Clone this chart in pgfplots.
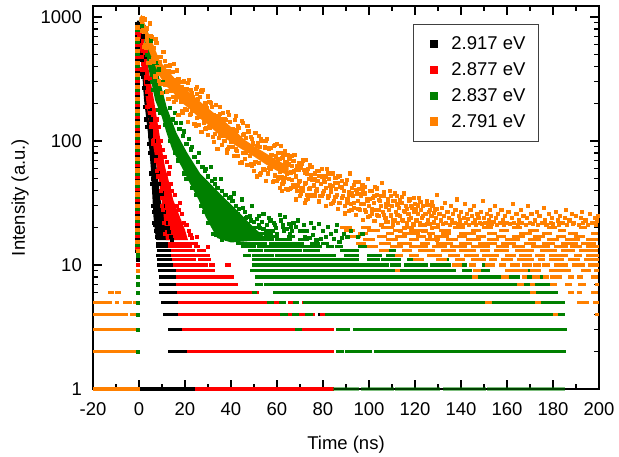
\documentclass[border=0pt]{standalone}
\usepackage{pgfplots}
\pgfplotsset{compat=1.18}
\usepackage{fontspec}
\setmainfont{Liberation Sans}
\definecolor{cblack}{RGB}{0,0,0}
\definecolor{cred}{RGB}{255,0,0}
\definecolor{cgreen}{RGB}{0,128,0}
\definecolor{corange}{RGB}{255,128,0}
\pgfplotsset{
  pdots/.style={only marks, mark=square*, mark size=1.6bp, mark options={draw=none}, forget plot},
  psegs/.style={no marks, line width=3.2bp, line cap=rect, unbounded coords=jump, forget plot},
  pcore/.style={no marks, draw=none, forget plot},
}
\newcommand{\fs}{\fontsize{18.5bp}{22bp}\selectfont}
\begin{document}
\begin{tikzpicture}
\path[use as bounding box] (-93bp,-68bp) rectangle (526bp,389bp);
\begin{axis}[
  at={(0,0)}, anchor=south west,
  scale only axis, width=506bp, height=383bp,
  xmin=-20, xmax=200, ymode=log, ymin=1, ymax=1227,
  clip=false,
  xtick={-20,0,...,200},
  xticklabels={-20,0,20,40,60,80,100,120,140,160,180,200},
  minor x tick num=1,
  ytick={1,10,100,1000}, yticklabels={1,10,100,1000},
  minor ytick={2,3,4,5,6,7,8,9,20,30,40,50,60,70,80,90,200,300,400,500,600,700,800,900},
  tick align=inside,
  major tick length=9bp, minor tick length=5bp,
  every tick/.append style={line width=1.2bp, black},
  axis line style={line width=1.5bp},
  tick label style={font=\fs},
  xticklabel style={anchor=north, inner sep=0pt, yshift=-13bp},
  yticklabel style={anchor=east, inner sep=0pt, xshift=-11bp},
  xlabel={Time (ns)}, ylabel={Intensity (a.u.)},
  label style={font=\fs},
  xlabel style={at={(axis description cs:0.5,-0.1567)}, anchor=base, inner sep=0pt},
  ylabel style={at={(axis description cs:-0.1344,0.5)}, anchor=base, inner sep=0pt},
  legend cell align=left,
  legend style={at={(axis description cs:0.6324,0.953)}, anchor=north west,
    draw=black!75, line width=0.8bp, fill=white, font=\fs,
    inner xsep=13bp, inner ysep=12.4bp, row sep=11.4bp, column sep=13.4bp,
    nodes={inner sep=0bp}},
  legend image code/.code={\path (-7.2bp,0bp); \fill[#1] (-3.6bp,-3.6bp) rectangle (3.6bp,3.6bp);},
]
% ================= BLACK 2.917 eV =================
\addplot[pcore, fill=cblack] coordinates {(-0.9,930)(-0.5,760)(0.3,560)(1.2,395)(2.2,214)(3.9,116)(5.1,62)(5.9,33.4)(6.3,24.4)(7.0,18.1)(7.8,15.9)(13.3,15.9)(12.4,18.1)(11.1,24.4)(9.4,33.4)(7.6,62)(6.0,116)(4.2,214)(3.2,395)(2.1,542)(0.8,862)(-0.3,940)} -- cycle;
\addplot[pdots, cblack] coordinates {(-1.0,850)(-0.8,700)(0.0,640)(0.5,500)(1.0,450)(1.4,350)(1.9,270)(2.5,190)(3.0,150)(3.5,130)(4.3,95)(4.7,80)(5.2,55)(5.5,45)(6.0,30)(6.4,27)(6.8,21)(7.3,19)(7.6,17)(8.0,16.5)(3.6,300)(4.5,180)(5.0,150)(5.5,120)(6.5,100)(7.0,75)(8.0,55)(8.5,45)(9.8,38)(10.2,30)(10.8,27)(11.6,22)(12.4,20)(13.0,18.5)(13.8,17)(14.2,16)(2.6,480)(1.6,700)(0.4,780)(1.8,330)(2.9,240)(4.1,160)(4.9,110)(5.6,72)(6.2,50)(8.8,40)(9.5,28)(6.6,22)(10.5,20)
(-0.8,13.0)(-0.8,16.2)(-0.8,20.3)(-0.8,25.3)(-0.8,31.6)(-0.8,39.4)(-0.8,49.2)(-0.8,61.4)(-0.8,76.7)(-0.8,95.7)(-0.8,119)(-0.8,149)(-0.8,186)(-0.8,232)(-0.8,289)(-0.8,361)(-0.8,451)(-0.8,563)(-0.8,702)(-0.8,877)(-0.7,11)};
\addplot[psegs, cblack] coordinates {(-0.6,1)(25,1)(nan,nan)(13.5,2)(21.7,2)(nan,nan)(13.5,3)(19.3,3)(nan,nan)(11.3,4)(12.5,4)(nan,nan)(13,4)(17.8,4)(nan,nan)(10.3,5)(17.8,5)(nan,nan)(9.6,6)(17,6)(nan,nan)(9.6,7)(17,7)(nan,nan)(9.6,8)(16.8,8)(nan,nan)(9.1,9)(10.6,9)(nan,nan)(11.3,9)(16.8,9)(nan,nan)(8.7,10)(15,10)(nan,nan)(8.6,11)(14,11)(nan,nan)(8.3,12)(14.5,12)(nan,nan)(8.4,13)(14,13)(nan,nan)(8.1,14)(13.5,14)(nan,nan)(7.9,15)(13.5,15)(nan,nan)(48,6)(48.7,6)(nan,nan)(59.6,5)(60,5)(nan,nan)(70,4)(70.4,4)(nan,nan)(78.7,4)(79,4)(nan,nan)(81.6,4)(82,4)};
% ================= RED 2.877 eV =================
\addplot[pcore, fill=cred] coordinates {(-0.4,780)(0.4,560)(2.2,292)(4.0,157)(6.5,84.6)(8.8,45.8)(10.6,26.2)(11.3,19)(11.7,15.9)(21.3,15.9)(20,19.2)(17.8,24.4)(14.9,33.4)(12.5,51.5)(11.3,61.7)(8.8,116)(6.5,214)(4.0,395)(1.9,695)(0.5,810)} -- cycle;
\addplot[pdots, cred] coordinates {(0.0,700)(0.8,600)(1.3,480)(1.0,380)(2.8,330)(3.2,250)(3.6,190)(4.6,170)(5.1,130)(5.8,100)(6.0,95)(7.2,70)(7.8,58)(8.2,52)(9.3,40)(9.8,35)(10.0,30)(10.3,28)(10.9,22)(11.0,18)(4.8,320)(5.6,260)(7.2,180)(7.8,150)(8.5,130)(9.6,100)(10.4,85)(11.0,75)(12.0,68)(13.0,55)(13.6,45)(14.2,40)(15.5,37)(16.5,30)(17.2,28)(18.5,26)(17.8,31.6)(19.5,22)(20.5,21)(21.5,19)(22.3,17.5)(23.0,16.5)(25,17)(30,14)(3.0,520)(2.3,600)(1.6,420)(6.8,120)(9.0,90)(12.8,42)(15.0,28)(16.2,22)(13.5,62)(10.2,48)
(-0.8,13.7)(-0.8,17.2)(-0.8,21.4)(-0.8,26.8)(-0.8,33.4)(-0.8,41.7)(-0.8,52.0)(-0.8,64.9)(-0.8,81.0)(-0.8,101)(-0.8,126)(-0.8,157)(-0.8,196)(-0.8,245)(-0.8,306)(-0.8,382)(-0.8,476)(-0.8,595)(-0.8,742)(-0.7,10)};
\addplot[psegs, cred] coordinates {(25,1)(80,1)(nan,nan)(81,1)(84,1)(nan,nan)(21.7,2)(80,2)(nan,nan)(81,2)(84,2)(nan,nan)(19.3,3)(68.5,3)(nan,nan)(70,3)(84,3)(nan,nan)(17.8,4)(58.4,4)(nan,nan)(58.8,4)(62,4)(nan,nan)(64.5,4)(66,4)(nan,nan)(69,4)(72,4)(nan,nan)(74.5,4)(76,4)(nan,nan)(79.5,4)(81.5,4)(nan,nan)(17.8,5)(57,5)(nan,nan)(59.5,5)(61,5)(nan,nan)(65.5,5)(67,5)(nan,nan)(71.5,5)(72.5,5)(nan,nan)(17,6)(45.4,6)(nan,nan)(46.6,6)(47.9,6)(nan,nan)(49,6)(51.3,6)(nan,nan)(63,6)(64,6)(nan,nan)(71.7,6)(73,6)(nan,nan)(16.8,7)(37.4,7)(nan,nan)(38.3,7)(39.3,7)(nan,nan)(40.6,7)(42.5,7)(nan,nan)(59.3,7)(60.3,7)(nan,nan)(16.8,8)(33.5,8)(nan,nan)(34.2,8)(36.8,8)(nan,nan)(38,8)(40.7,8)(nan,nan)(16.8,9)(29.4,9)(nan,nan)(30.4,9)(32.5,9)(nan,nan)(15.4,10)(29.1,10)(nan,nan)(31,10)(32.3,10)(nan,nan)(38.3,10)(39.5,10)(nan,nan)(14.9,11)(24,11)(nan,nan)(26.5,11)(30.4,11)(nan,nan)(14.8,12)(25.5,12)(nan,nan)(26.5,12)(30.3,12)(nan,nan)(14.5,13)(23.6,13)(nan,nan)(25.7,13)(28.5,13)(nan,nan)(13.5,14)(22.5,14)(nan,nan)(24.5,14)(26,14)(nan,nan)(13.2,15)(22,15)(nan,nan)(23.5,15)(24.8,15)};
% ================= GREEN 2.837 eV =================
\addplot[pcore, fill=cgreen] coordinates {(0.2,950)(1.8,743)(4.0,395)(7.0,214)(9.9,157)(12,116)(14.5,85)(18.5,62)(22,46)(26,33.4)(29,24.5)(31.5,20)(34,16.5)(40,15.2)(56,16)(50,20)(44,26)(35,38)(26.5,55)(21,80)(16.3,116)(12,189)(9,310)(6.2,509)(3.3,837)(0.8,960)} -- cycle;
\addplot[pdots, cgreen] coordinates {(5,650)(7.5,430)(10.2,300)(11.5,250)(13.5,185)(14.8,150)(17.5,125)(19,110)(20.5,95)(22.5,86)(24,75)(25.5,68)(27.5,62)(28.5,58)(30,52)(31.5,48)(33,45)(34,42)(36,40)(37.5,37)(39,35)(40.5,33)(42,30)(43.5,28.5)(46,27)(47,24.5)(48.5,23)(50,22.5)(52,21)(54,19.5)(55,18.2)(57,17.5)(58,19)(60,18)(61,25.3)(62.6,21)(64,19.5)(65.6,18)(67,22)(70,19)(71.3,19)(72,17)(74,16.5)(75.5,17.5)(77,16)(79,16.2)(81,16.8)(84.7,16.2)(87,15.5)(88,16.5)(41,38)(40,35.5)(54,26)(62.6,20.4)(33,50)(29,60)(23,90)(19.5,120)(16,140)(8.5,380)(12.5,220)(15.5,170)(18,140)(21.5,105)(26,80)(31,62)(35.5,50)(44.5,34)(49,30)(52,25)(57,23)(59,21)(66,20.5)
(41,24)(42.5,21)(44,23)(45.5,20)(47,21.5)(48,25)(49.5,19)(51,23.5)(52.5,20)(53.5,22.5)(55.5,21)(56.5,24)(58.5,22)(59.5,20)(61.5,23)(63,19)(63.5,24.5)(65,21.5)(66.5,19)(68,20.5)(69,23)(71.5,21)(73,19)(74.5,22)(76,20)(78,21.5)(80,19)(82,20.5)(83.5,18)(85.5,19)(86,21)(89,18)(90.5,17)(92,19)(95,17)(97,18)(36,30)(37,27)(38.5,29)(39.5,25)(43,26)(45,29)(46.5,24)(35,26)(33.5,28)(32,25)
(1.0,850)(2.5,600)(3.2,500)(5.5,300)(6.0,260)(8.0,180)(9.0,170)(11,135)(13.5,100)(15.5,80)(17,70)(19.5,55)(20.5,50)(23,42)(24.5,37)(27,30)(28,27)(30,22)(32,18)(33.5,17.5)(36,16)(38,16.2)
(-0.8,14.5)(-0.8,18.2)(-0.8,22.7)(-0.8,28.3)(-0.8,35.3)(-0.8,44.0)(-0.8,55.0)(-0.8,68.6)(-0.8,85.6)(-0.8,107)(-0.8,133)(-0.8,166)(-0.8,207)(-0.8,259)(-0.8,323)(-0.8,403)(-0.8,504)(-0.8,629)(-0.8,785)
(-0.7,2)(-0.7,3)(-0.7,4)(-0.7,5)(-0.7,6)(-0.7,7)(-0.7,8)(-0.7,12)};
\addplot[psegs, cgreen, opacity=0.5] coordinates {(85,1)(95,1)(nan,nan)(97,1)(110,1)(nan,nan)(112,1)(130,1)(nan,nan)(133,1)(150,1)(nan,nan)(152,1)(184.5,1)};
\addplot[psegs, cgreen] coordinates {(86.5,2)(88.4,2)(nan,nan)(90.3,2)(92,2)(nan,nan)(93.2,2)(100.4,2)(nan,nan)(102.9,2)(104.5,2)(nan,nan)(105.8,2)(107.7,2)(nan,nan)(108.4,2)(125,2)(nan,nan)(126.2,2)(184.8,2)(nan,nan)
(68.5,3)(70,3)(nan,nan)(86.5,3)(88.7,3)(nan,nan)(89.4,3)(90.9,3)(nan,nan)(93.9,3)(185.3,3)(nan,nan)
(62,4)(64,4)(nan,nan)(67,4)(69,4)(nan,nan)(73,4)(75,4)(nan,nan)(81.6,4)(184.5,4)(nan,nan)
(56.5,5)(58,5)(nan,nan)(61.5,5)(63,5)(nan,nan)(67.5,5)(69,5)(nan,nan)(72,5)(184.5,5)(nan,nan)
(50,6)(50.8,6)(nan,nan)(59,6)(61,6)(nan,nan)(62.5,6)(64.5,6)(nan,nan)(65.6,6)(70,6)(nan,nan)(70.7,6)(181.4,6)(nan,nan)
(51,7)(53,7)(nan,nan)(55,7)(61,7)(nan,nan)(62,7)(67,7)(nan,nan)(68,7)(181,7)(nan,nan)
(51,8)(52,8)(nan,nan)(53,8)(145.4,8)(nan,nan)(147.6,8)(157,8)(nan,nan)(160,8)(165,8)(nan,nan)(168,8)(171,8)(nan,nan)(174,8)(176,8)(nan,nan)
(49,9)(112,9)(nan,nan)(113,9)(123,9)(nan,nan)(124,9)(127,9)(nan,nan)(128,9)(130,9)(nan,nan)(131.5,9)(133,9)(nan,nan)(134.5,9)(137,9)(nan,nan)(141,9)(144,9)(nan,nan)(148,9)(152,9)(nan,nan)(168,9)(170,9)(nan,nan)
(50,10)(56,10)(nan,nan)(57,10)(88,10)(nan,nan)(88.7,10)(99,10)(nan,nan)(100,10)(108,10)(nan,nan)(110,10)(113,10)(nan,nan)(116,10)(125,10)(nan,nan)(127,10)(135,10)(nan,nan)(140,10)(142,10)(nan,nan)(150,10)(153,10)(nan,nan)
(50,11)(55,11)(nan,nan)(56,11)(88,11)(nan,nan)(89,11)(95,11)(nan,nan)(100,11)(104,11)(nan,nan)(106,11)(113,11)(nan,nan)(117,11)(120,11)(nan,nan)(130,11)(134,11)(nan,nan)
(46,12)(48,12)(nan,nan)(50,12)(58,12)(nan,nan)(60,12)(76,12)(nan,nan)(77,12)(81,12)(nan,nan)(82,12)(85,12)(nan,nan)(90,12)(95,12)(nan,nan)(100,12)(105,12)(nan,nan)(108,12)(111,12)(nan,nan)
(48,13)(53,13)(nan,nan)(55,13)(62,13)(nan,nan)(63,13)(70,13)(nan,nan)(72,13)(78,13)(nan,nan)(88,13)(95,13)(nan,nan)(108,13)(111,13)(nan,nan)
(45,14)(50,14)(nan,nan)(52,14)(62,14)(nan,nan)(63,14)(71,14)(nan,nan)(72,14)(79,14)(nan,nan)(82,14)(84,14)(nan,nan)(86,14)(88,14)(nan,nan)(96,14)(99,14)(nan,nan)
(43,15)(50,15)(nan,nan)(51,15)(55,15)(nan,nan)(57,15)(71,15)(nan,nan)(75,15)(78,15)(nan,nan)(80,15)(82,15)(nan,nan)
(40,16)(48,16)(nan,nan)(50,16)(58,16)(nan,nan)(60,16)(66,16)(nan,nan)(70,16)(73,16)(nan,nan)
(38,17)(45,17)(nan,nan)(47,17)(52,17)(nan,nan)(55,17)(60,17)(nan,nan)(65,17)(67,17)(nan,nan)
(36,18)(44,18)(nan,nan)(46,18)(50,18)(nan,nan)(53,18)(57,18)(nan,nan)
(35,19)(42,19)(nan,nan)(44,19)(48,19)(nan,nan)(55,19)(57,19)(nan,nan)
(34,20)(40,20)(nan,nan)(42,20)(46,20)(nan,nan)(50,20)(52,20)(nan,nan)
(32,22)(38,22)(nan,nan)(40,22)(43,22)};
% ================= ORANGE 2.791 eV =================
\addplot[pcore, fill=corange] coordinates {(0.2,990)(1.2,1040)(3.3,800)(6.2,600)(9.1,440)(12,380)(14.9,330)(18,285)(22.2,245)(26,212)(29.4,188)(34,160)(38,140)(42,120)(46,102)(50,91)(55,80)(60,70)(65,63)(65,53)(60,57.5)(55,65)(50,75)(46,83)(42,92)(38,104)(34,116)(29.4,138)(26,155)(22.2,180)(18,208)(14.9,245)(12,275)(9.1,330)(6.2,440)(3.3,590)(1.0,780)(0.2,880)} -- cycle;
\addplot[pdots, corange] coordinates {(1.5,986)(2.5,960)(3.5,812)(4.5,892)(5.5,690)(6.5,565)(7.5,621)(8.5,478)(9.5,477)(10.5,528)(11.5,405)(12.5,367)(13.5,408)(14.5,364)(15.5,314)(16.5,372)(17.5,299)(18.5,275)(19.5,304)(20.5,266)(21.5,310)(22.5,259)(23.5,226)(24.5,265)(25.5,218)(26.5,228)(27.5,258)(28.5,203)(29.5,186)(30.5,209)(31.5,189)(32.5,164)(33.5,197)(34.5,161)(35.5,150)(36.5,168)(37.5,148)(38.5,173)(39.5,144)(40.5,125)(41.5,148)(42.5,122)(43.5,128)(44.5,145)(45.5,114)(46.5,106)(47.5,120)(48.5,109)(49.5,96)(50.5,116)(51.5,96)(52.5,90)(53.5,100)(54.5,89)(55.5,104)(56.5,87.5)(57.5,77)(58.5,91)(59.5,75.5)(60.5,81)(61.5,92)(62.5,74)(63.5,68.5)(64.5,78)(65.5,72)(66.5,63)(67.5,77)(68.5,63)(69.5,59)(70.5,66)(71.5,59)(72.5,70.5)(73.5,60)(74.5,53)
(5,708)(7,665)(9,439)(11,445)(13,365)(15,419)(17,317)(19,263)(21,296)(23,245)(25,240)(27,252)(29,191)(31,203)(33,160)(35,165)(37,152)(39,164)(41,124)(43,133)(45,112)(47,133)(49,105)(51,91)(53,105)(55,88)(57,88)(59,94)(61,72.5)(63,80)(65,65)(67,69)(69,63.5)(71,70)(73,55)
(1,778)(2,576)(3,564)(4,429)(5,447)(6,457)(7,333)(8,349)(9,289)(10,246)(11,287)(12,252)(13,219)(14,255)(15,209)(16,214)(17,164)(18,207)(19,169)(20,181)(21,144)(22,162)(23,177)(24,137)(25,155)(26,136)(27,119)(28,142)(29,127)(30,112)(31,132)(32,109)(33,114)(34,87)(35,112)(36,93)(37,100)(38,80)(39,90)(40,98)(41,76)(42,86)(43,76.5)(44,67)(45,80)(46,72)(47,64)(48,76)(49,63)(50,66)(51,52)(52,67)(53,55.5)(54,60)(55,48)(56,55)(57,60)(58,47)(59,53)(60,47.6)(61,42)(62,51)(63,47)(64,41.5)(65,49.5)(66,42)(67,44)(68,34)(69,44)(70,36.4)(71,40)(72,32)(73,37)(74,41)
(2.5,602)(4.5,430)(6.5,440)(8.5,308)(10.5,292)(12.5,218)(14.5,228)(16.5,228)(18.5,174)(20.5,180)(22.5,166)(24.5,134)(26.5,157)(28.5,126)(30.5,129)(32.5,99)(34.5,106)(36.5,110)(38.5,87)(40.5,90)(42.5,83)(44.5,67.5)(46.5,80)(48.5,66)(50.5,68)(52.5,54)(54.5,58.5)(56.5,61)(58.5,48)(60.5,51)(62.5,48.4)(64.5,40.6)(66.5,49)(68.5,40)(70.5,41.7)(72.5,33.5)(74.5,37)
(30,230)(45,140)(55,100)(60,95)(52,110)(42,160)(25,275)(38,85)(50,58)(62,40)(70,36)(64,78)(35,190)(66,56)(68,52)(70,48)(72,45)(74,50)
(60.3,69)(60.3,50)(61.3,81)(61.3,57)(62.3,45.5)(62.3,73)(63.3,83)(63.3,50.5)(64.3,55)(64.3,67)(65.3,72)(65.3,41)(66.3,49)(66.3,75.6)(67.3,57)(67.3,42.5)(68.3,58.5)(68.3,42.6)(69.3,67)(69.3,47.4)(70.3,38)(70.3,60.6)(71.3,69)(71.3,42)(72.3,46.4)(72.3,56)(73.3,60)(73.3,34.6)(74.3,41.6)(74.3,64)(75.3,49)(75.3,36.4)(76.3,50)(76.3,36.5)(77.3,58)(77.3,41)(78.3,32.7)(78.3,52.3)(79.3,60)(79.3,36.4)(80.3,40)(80.3,48.6)(81.3,52)(81.3,30)(82.3,36)(82.3,55)(83.3,42.2)(83.3,31.4)(84.3,43.5)(84.3,31.6)(85.3,50.4)(85.3,35.7)(86.3,28.6)(86.3,45.8)(87.3,52.5)(87.3,31.9)(88.3,35)(88.3,42.4)(89.3,45.5)(89.3,26.2)(90.3,31.6)(90.3,48.5)(91.3,37.2)(91.3,27.6)(92.3,38.4)(92.3,27.9)(93.3,44.7)(93.3,31.6)(94.3,25.4)(94.3,40.7)(95.3,46.8)(95.3,28.4)(96.3,31.3)(96.3,37.8)(97.3,40.5)(97.3,23.3)(98.3,28)(98.3,43)(99.3,33)(99.3,24.5)(100.3,34.1)(100.3,24.8)(101.3,39.8)(101.3,28.2)(102.3,22.7)(102.3,36.2)(103.3,41.7)(103.3,25.3)(104.3,27.9)(104.3,33.8)(105.3,36.3)(105.3,21)(106.3,25.3)(106.3,38.7)(107.3,29.8)(107.3,22.2)(108.3,30.9)(108.3,22.5)(109.3,36.1)(109.3,25.6)(110.3,21)(110.3,33)(111.3,38)(111.3,23.1)(112.3,25.6)(112.3,30.9)(113.3,33.3)(113.3,19)(114.3,23.1)(114.3,35.5)(115.3,27.3)(115.3,20)(116.3,28.3)(116.3,21)(117.3,33)(117.3,23.4)(118.3,19)(118.3,30.1)(119.3,34.7)(119.3,21.1)(120.3,23.3)(120.3,28.2)(121.3,30.4)(121.3,18)(122.3,21.2)(122.3,32.5)(123.3,25.1)(123.3,19)(124.3,26.1)(124.3,19)(125.3,30.6)(125.3,21.6)(126.3,17)(126.3,28)(127.3,32.3)(127.3,20)(128.3,21.8)(128.3,26.3)(129.3,28.4)(129.3,16)
(75,62)(75.5,50)(76,44)(76.5,55)(77,40)(77.5,48)(78,58)(78.5,36)(79,45)(79.5,52)(80,38)(80.5,47)(81,42)(81.5,60)(82,35)(82.5,50)(83,44)(83.5,39)(84,55)(84.5,33)(85,46)(85.5,41)(86,37)(86.5,52)(87,32)(87.5,43)(88,48)(88.5,36)(89,40)(89.5,30)(90,45)(90.5,34)(91,39)(91.5,55)(92,31)(92.5,42)(93,36)(93.5,29)(94,47)(94.5,38)(95,33)(95.5,41)(96,28)(96.5,36)(97,44)(97.5,31)(98,38)(98.5,27)(99,34)(99.5,50)(100,30)(100.5,40)(101,26)(101.5,35)(102,32)(102.5,43)(103,28)(103.5,37)(104,25)(104.5,33)(105,30)(105.5,46)(106,27)(106.5,36)(107,24)(107.5,31)(108,34)(108.5,28)(109,40)(109.5,25)(110,30)(110.5,23)(111,33)(111.5,27)(112,36)(112.5,22)(113,29)(113.5,25)(114,32)(114.5,23)(115,38)(115.5,27)(116,30)(116.5,22)(117,26)(117.5,34)(118,24)(118.5,29)(119,21.5)(119.5,27)(120,31)(120.5,23)(121,26)(121.5,35)(122,22)(122.5,28)(123,24)(123.5,30)(124,21)(124.5,26)(125,33)(125.5,23)(126,27)(126.5,21.5)(127,25)(127.5,30)(128,22.5)(128.5,28)(129,24)(129.5,37)(130,21)(130.5,26)(131,23)(131.5,29)(132,21.5)(132.5,25)(133,32)(133.5,22)(134,27)(134.5,24)(135,21)(135.5,30)(136,23)(136.5,26)(137,22)(137.5,28)(138,34)(138.5,21.5)(139,25)(139.5,23)(140,27)(140.5,21)(141,24)(141.5,31)(142,22)(142.5,26)(143,23.5)(143.5,21)(144,28)(144.5,25)(145,22)(145.5,30)(146,23)(146.5,21)(147,26)(147.5,24)(148,22)(148.5,27)(149,21.5)(149.5,33)(150,24)(150.5,22)(151,26)(151.5,21)(152,23)(152.5,28)(153,25)(153.5,21.5)(154,22.5)(154.5,30)(155,24)(155.5,21)(156,26)(157,22)(157.5,28)(158,23)(158.5,21)(159,25)(160,22)(160.5,27)(161,21.5)(162,24)(162.5,31)(163,22)(164,26)(164.5,21)(165,23)(166,28)(166.5,22)(167,25)(168,21)(168.5,24)(169,30)(170,22)(170.5,26)(171,21.5)(172,23)(173,27)(173.5,21)(174,25)(175,22)(176,29)(176.5,23)(177,21)(178,26)(179,22)(179.5,24)(180,21.5)(181,27)(182,23)(182.5,21)(183,25)(184,22)(185,24)(185.5,28)(186,21)(187,23)(188,26)(188.5,21.5)(189,22)(190,25)(191,21)(192,24)(192.5,27)(193,22)(194,23)(195,21)(196,26)(197,22)(198,24)(198.5,21)(199,23)(199.3,25)
(-0.8,15.4)(-0.8,19.2)(-0.8,24.0)(-0.8,29.9)(-0.8,37.3)(-0.8,46.6)(-0.8,58.1)(-0.8,72.5)(-0.8,90.5)(-0.8,113)(-0.8,141)(-0.8,176)(-0.8,219)(-0.8,274)(-0.8,342)(-0.8,426)(-0.8,532)(-0.8,664)(-0.8,829)(-0.7,9)(-0.7,13)};
\addplot[psegs, corange] coordinates {(-19.3,1)(-0.3,1)(nan,nan)(-19.3,2)(-1.0,2)(nan,nan)
(-19.3,3)(-17,3)(nan,nan)(-16.2,3)(-13.8,3)(nan,nan)(-12.6,3)(-1.2,3)(nan,nan)
(-19.3,4)(-15.4,4)(nan,nan)(-14,4)(-12,4)(nan,nan)(-11.4,4)(-8.6,4)(nan,nan)(-7.6,4)(-6.8,4)(nan,nan)(-6,4)(-5.4,4)(nan,nan)(-3.4,4)(-1.2,4)(nan,nan)
(-19.3,5)(-18.9,5)(nan,nan)(-17.5,5)(-16.8,5)(nan,nan)(-15.2,5)(-14.3,5)(nan,nan)(-12.9,5)(-12.4,5)(nan,nan)(-9.9,5)(-9.5,5)(nan,nan)(-6.3,5)(-3.6,5)(nan,nan)(-1.8,5)(-1.2,5)(nan,nan)
(-12.8,6)(-11.4,6)(nan,nan)(-9.6,6)(-8.6,6)(nan,nan)
(180.9,4)(181.5,4)(nan,nan)(199,4)(199.3,4)(nan,nan)
(151,5)(152.6,5)(nan,nan)(172.9,5)(174,5)(nan,nan)(191,5)(195,5)(nan,nan)(198,5)(199.3,5)(nan,nan)
(170.7,6)(172,6)(nan,nan)(187,6)(188.5,6)(nan,nan)(191,6)(192,6)(nan,nan)(197,6)(199,6)(nan,nan)
(165,7)(166.5,7)(nan,nan)(170.5,7)(171.5,7)(nan,nan)(179.5,7)(181,7)(nan,nan)(186,7)(187.5,7)(nan,nan)(191.5,7)(193.8,7)(nan,nan)(199,7)(199.3,7)(nan,nan)
(145.4,8)(146.5,8)(nan,nan)(158,8)(160,8)(nan,nan)(167,8)(168,8)(nan,nan)(171.5,8)(173.5,8)(nan,nan)(176.5,8)(177.5,8)(nan,nan)(179.5,8)(181,8)(nan,nan)(182.5,8)(183,8)(nan,nan)(187,8)(188.5,8)(nan,nan)(191,8)(192.5,8)(nan,nan)(197,8)(199,8)(nan,nan)
(112.2,9)(112.8,9)(nan,nan)(146,9)(148,9)(nan,nan)(160,9)(165,9)(nan,nan)(166.5,9)(168.5,9)(nan,nan)(170.5,9)(174,9)(nan,nan)(179,9)(187,9)(nan,nan)(193,9)(196,9)(nan,nan)(198.5,9)(199.3,9)(nan,nan)
(136.7,10)(139.6,10)(nan,nan)(144,10)(146,10)(nan,nan)(151,10)(154,10)(nan,nan)(157,10)(159,10)(nan,nan)(162,10)(165,10)(nan,nan)(167,10)(170,10)(nan,nan)(172,10)(174,10)(nan,nan)(176,10)(178,10)(nan,nan)(181,10)(186,10)(nan,nan)(189,10)(193,10)(nan,nan)(196,10)(199.3,10)(nan,nan)
(120,11)(123,11)(nan,nan)(130,11)(133,11)(nan,nan)(138,11)(141,11)(nan,nan)(145,11)(150,11)(nan,nan)(153,11)(155,11)(nan,nan)(158,11)(162,11)(nan,nan)(165,11)(171,11)(nan,nan)(174,11)(176,11)(nan,nan)(179,11)(184,11)(nan,nan)(187,11)(191,11)(nan,nan)(194,11)(199.3,11)(nan,nan)
(112,12)(114,12)(nan,nan)(118,12)(121,12)(nan,nan)(126,12)(131,12)(nan,nan)(135,12)(139,12)(nan,nan)(142,12)(147,12)(nan,nan)(150,12)(156,12)(nan,nan)(160,12)(163,12)(nan,nan)(166,12)(170,12)(nan,nan)(173,12)(176,12)(nan,nan)(179,12)(186,12)(nan,nan)(190,12)(192,12)(nan,nan)(195,12)(199.3,12)(nan,nan)
(105,13)(108,13)(nan,nan)(115,13)(118,13)(nan,nan)(122,13)(128,13)(nan,nan)(132,13)(137,13)(nan,nan)(140,13)(146,13)(nan,nan)(149,13)(152,13)(nan,nan)(155,13)(160,13)(nan,nan)(164,13)(171,13)(nan,nan)(175,13)(181,13)(nan,nan)(184,13)(189,13)(nan,nan)(192,13)(199,13)(nan,nan)
(100,14)(103,14)(nan,nan)(110,14)(114,14)(nan,nan)(118,14)(125,14)(nan,nan)(128,14)(133,14)(nan,nan)(136,14)(142,14)(nan,nan)(145,14)(152,14)(nan,nan)(156,14)(160,14)(nan,nan)(163,14)(167,14)(nan,nan)(171,14)(178,14)(nan,nan)(181,14)(186,14)(nan,nan)(188,14)(192,14)(nan,nan)(195,14)(199.3,14)(nan,nan)
(95,15)(98,15)(nan,nan)(105,15)(109,15)(nan,nan)(113,15)(118,15)(nan,nan)(123,15)(126,15)(nan,nan)(130,15)(136,15)(nan,nan)(140,15)(144,15)(nan,nan)(148,15)(155,15)(nan,nan)(158,15)(163,15)(nan,nan)(168,15)(172,15)(nan,nan)(176,15)(180,15)(nan,nan)(184,15)(190,15)(nan,nan)(193,15)(198,15)(nan,nan)
(98,16)(102,16)(nan,nan)(108,16)(112,16)(nan,nan)(118,16)(121,16)(nan,nan)(125,16)(130,16)(nan,nan)(134,16)(138,16)(nan,nan)(143,16)(148,16)(nan,nan)(152,16)(156,16)(nan,nan)(160,16)(165,16)(nan,nan)(170,16)(174,16)(nan,nan)(178,16)(182,16)(nan,nan)(186,16)(191,16)(nan,nan)(195,16)(199,16)(nan,nan)
(92,17)(96,17)(nan,nan)(104,17)(107,17)(nan,nan)(112,17)(116,17)(nan,nan)(121,17)(124,17)(nan,nan)(129,17)(134,17)(nan,nan)(139,17)(142,17)(nan,nan)(147,17)(150,17)(nan,nan)(156,17)(159,17)(nan,nan)(163,17)(167,17)(nan,nan)(172,17)(176,17)(nan,nan)(182,17)(185,17)(nan,nan)(190,17)(193,17)(nan,nan)
(96,18)(99,18)(nan,nan)(108,18)(110,18)(nan,nan)(115,18)(120,18)(nan,nan)(126,18)(128,18)(nan,nan)(132,18)(135,18)(nan,nan)(140,18)(146,18)(nan,nan)(152,18)(155,18)(nan,nan)(166,18)(170,18)(nan,nan)(176,18)(179,18)(nan,nan)(187,18)(190,18)(nan,nan)(197,18)(199,18)(nan,nan)
(90,19)(93,19)(nan,nan)(100,19)(104,19)(nan,nan)(111,19)(114,19)(nan,nan)(120,19)(125,19)(nan,nan)(131,19)(135,19)(nan,nan)(145,19)(148,19)(nan,nan)(157,19)(160,19)(nan,nan)(170,19)(173,19)(nan,nan)(183,19)(185,19)(nan,nan)
(88,20)(92,20)(nan,nan)(97,20)(100,20)(nan,nan)(106,20)(110,20)(nan,nan)(116,20)(119,20)(nan,nan)(127,20)(130,20)(nan,nan)(137,20)(141,20)(nan,nan)(150,20)(153,20)(nan,nan)(163,20)(166,20)(nan,nan)(178,20)(181,20)(nan,nan)(192,20)(194,20)};
% ================= LEGEND =================
\addlegendimage{cblack}
\addlegendentry{2.917 eV}
\addlegendimage{cred}
\addlegendentry{2.877 eV}
\addlegendimage{cgreen}
\addlegendentry{2.837 eV}
\addlegendimage{corange}
\addlegendentry{2.791 eV}
\end{axis}
\end{tikzpicture}
\end{document}
